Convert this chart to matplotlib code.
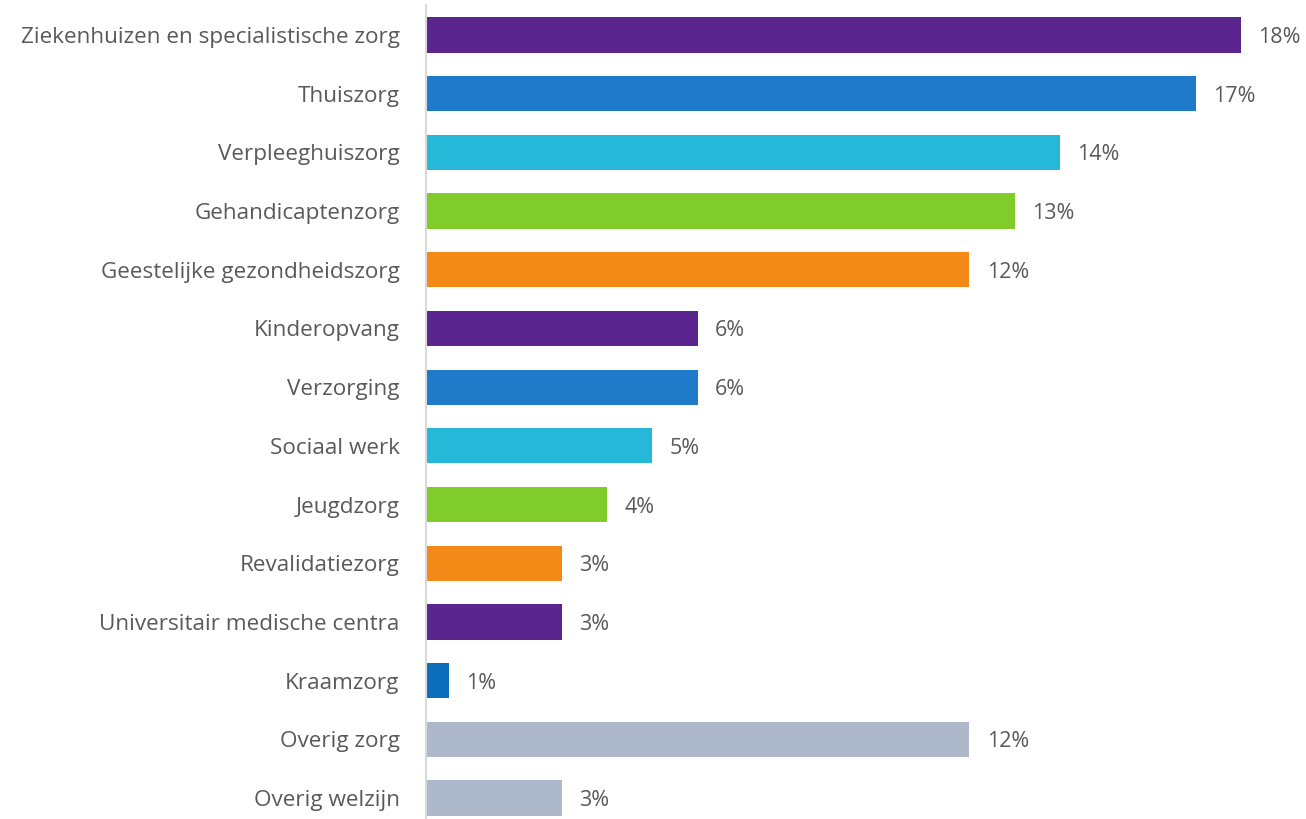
import matplotlib
matplotlib.use("Agg")
import matplotlib.pyplot as plt

categories = [
    "Ziekenhuizen en specialistische zorg",
    "Thuiszorg",
    "Verpleeghuiszorg",
    "Gehandicaptenzorg",
    "Geestelijke gezondheidszorg",
    "Kinderopvang",
    "Verzorging",
    "Sociaal werk",
    "Jeugdzorg",
    "Revalidatiezorg",
    "Universitair medische centra",
    "Kraamzorg",
    "Overig zorg",
    "Overig welzijn",
]
values = [18.0, 17.0, 14.0, 13.0, 12.0, 6.0, 6.0, 5.0, 4.0, 3.0, 3.0, 0.5, 12.0, 3.0]
value_labels = ["18%", "17%", "14%", "13%", "12%", "6%", "6%", "5%", "4%", "3%", "3%", "1%", "12%", "3%"]
colors = ["#5B2590", "#1F7BC9", "#25B8D9", "#7FCC2A", "#F38A17",
          "#5B2590", "#1F7BC9", "#25B8D9", "#7FCC2A", "#F38A17",
          "#5B2590", "#0A6EBD", "#ADB8CB", "#ADB8CB"]

text_color = "#595959"
plt.rcParams['font.family'] = ['Open Sans', 'DejaVu Sans']

fig = plt.figure(figsize=(13.06, 8.19), dpi=100)
ax = fig.add_axes([426 / 1306, 0.0, 880 / 1306, 1 - 5 / 819])

y = list(range(len(categories)))
ax.barh(y, values, height=0.6, color=colors)

for yi, v, lab in zip(y, values, value_labels):
    ax.annotate(lab, (v, yi), xytext=(12.5, 0), textcoords="offset points",
                va="center_baseline", ha="left", fontsize=15.5, color=text_color)

ax.set_yticks(y)
ax.set_yticklabels(categories, fontsize=16.2, color=text_color, va="center_baseline")
ax.tick_params(axis="y", length=0, pad=19)
ax.set_xticks([])
ax.set_xlim(0, 880 / 45.28)
ax.set_ylim(13.358, -0.511)

for s in ["top", "right", "bottom"]:
    ax.spines[s].set_visible(False)
ax.spines["left"].set_color("#D9D9D9")
ax.spines["left"].set_linewidth(1.5)

fig.savefig("out.png", dpi=100)
